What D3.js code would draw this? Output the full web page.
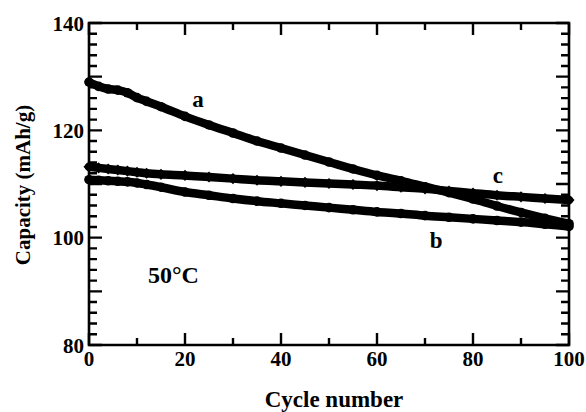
<!DOCTYPE html>
<html>
<head>
<meta charset="utf-8">
<script src="https://cdn.jsdelivr.net/npm/d3@7"></script>
<style>
  body { margin: 0; background: #fff; }
  svg text { font-family: "Liberation Serif", "Times New Roman", serif; font-weight: bold; fill: #000; }
</style>
</head>
<body>
<div id="chart"></div>
<script>
// values
var cycles = [0, 2, 4, 6, 8, 10, 12, 15, 20, 25, 30, 35, 40, 45, 50, 55, 60, 65, 70, 75, 80, 85, 90, 95, 100];
var capA = [129.0, 128.2, 127.7, 127.5, 127.0, 126.1, 125.4, 124.4, 122.6, 121.0, 119.5, 118.0, 116.7, 115.4, 114.1, 112.8, 111.6, 110.6, 109.5, 108.4, 107.2, 105.9, 104.7, 103.6, 102.6];
var capB = [110.8, 110.7, 110.6, 110.5, 110.4, 110.2, 109.9, 109.4, 108.5, 107.9, 107.3, 106.8, 106.4, 106.0, 105.6, 105.2, 104.8, 104.5, 104.1, 103.8, 103.5, 103.2, 102.9, 102.5, 102.1];
var capC = [113.2, 113.0, 112.8, 112.6, 112.4, 112.2, 112.0, 111.8, 111.6, 111.3, 111.0, 110.7, 110.5, 110.3, 110.1, 109.9, 109.7, 109.4, 109.1, 108.7, 108.3, 107.9, 107.6, 107.3, 107.0];

var xTicks = [0, 20, 40, 60, 80, 100];
var yTicks = [80, 100, 120, 140];
var seriesLabels = ["a", "b", "c"];
var labelPos = [[22.7, 124.4], [72.3, 98.0], [85.2, 110.2]];   // [cycle, capacity] of the letters

var width = 586, height = 412;
var plotLeft = 89, plotRight = 569, plotTop = 23, plotBottom = 345;

var svg = d3.select("#chart").append("svg")
    .attr("width", width)
    .attr("height", height);

var x = d3.scaleLinear().domain([0, 100]).range([plotLeft, plotRight]);
var y = d3.scaleLinear().domain([80, 140]).range([plotBottom, plotTop]);

// frame
svg.append("path")
    .attr("d", "M" + plotLeft + "," + plotTop + "H" + plotRight + "V" + plotBottom + "H" + plotLeft + "Z")
    .attr("fill", "none")
    .attr("stroke", "#000")
    .attr("stroke-width", 2.6);

// tick labels
svg.selectAll(".xl").data(xTicks).enter().append("text")
    .attr("x", function (d) { return x(d); })
    .attr("y", 366)
    .attr("text-anchor", "middle")
    .attr("font-size", 21)
    .text(function (d) { return d; });

svg.selectAll(".yl").data(yTicks).enter().append("text")
    .attr("x", plotLeft - 5)
    .attr("y", function (d) { return y(d) + 7.5; })
    .attr("text-anchor", "end")
    .attr("font-size", 21)
    .text(function (d) { return d; });

// titles
svg.append("text")
    .attr("x", 334).attr("y", 407)
    .attr("text-anchor", "middle")
    .attr("font-size", 23)
    .text("Cycle number");

svg.append("text")
    .attr("transform", "translate(30,185) rotate(-90)")
    .attr("text-anchor", "middle")
    .attr("font-size", 21)
    .text("Capacity (mAh/g)");

// curves
var line = d3.line()
    .x(function (d) { return x(d[0]); })
    .y(function (d) { return y(d[1]); })
    .curve(d3.curveMonotoneX);

function pts(vals) { return cycles.map(function (c, i) { return [c, vals[i]]; }); }

[capB, capC, capA].forEach(function (vals) {
    svg.append("path")
        .datum(pts(vals))
        .attr("d", line)
        .attr("fill", "none")
        .attr("stroke", "#000")
        .attr("stroke-width", 8.5)
        .attr("stroke-linejoin", "round")
        .attr("stroke-linecap", "round");
});

// markers
svg.append("g").selectAll("path").data(pts(capC)).enter().append("path")
    .attr("transform", function (d) { return "translate(" + x(d[0]) + "," + y(d[1]) + ") rotate(45)"; })
    .attr("d", d3.symbol().type(d3.symbolSquare).size(62))
    .attr("fill", "#000");

svg.append("g").selectAll("circle").data(pts(capA).concat(pts(capB))).enter().append("circle")
    .attr("cx", function (d) { return x(d[0]); })
    .attr("cy", function (d) { return y(d[1]); })
    .attr("r", 4.8)
    .attr("fill", "#000");

// annotations
svg.selectAll(".lab").data(seriesLabels).enter().append("text")
    .attr("x", function (d, i) { return x(labelPos[i][0]); })
    .attr("y", function (d, i) { return y(labelPos[i][1]); })
    .attr("text-anchor", "middle")
    .attr("font-size", 23)
    .text(function (d) { return d; });

svg.append("text")
    .attr("x", 148).attr("y", 283)
    .attr("font-size", 24)
    .text("50°C");

// ticks last: minor every 10 on x, every 2 on y, all pointing inward
var xAll = d3.range(0, 101, 10);
var yAll = d3.range(80, 141, 2);
function xLen(d) { return d % 20 == 0 ? 12 : 7; }
function yLen(d) { return d % 10 == 0 ? 13 : 8; }

var tickPath = d3.path();
xAll.forEach(function (d) {
    tickPath.moveTo(x(d), plotBottom); tickPath.lineTo(x(d), plotBottom - xLen(d));
    tickPath.moveTo(x(d), plotTop); tickPath.lineTo(x(d), plotTop + xLen(d));
});
yAll.forEach(function (d) {
    tickPath.moveTo(plotLeft, y(d)); tickPath.lineTo(plotLeft + yLen(d), y(d));
    tickPath.moveTo(plotRight, y(d)); tickPath.lineTo(plotRight - yLen(d), y(d));
});
svg.append("path")
    .attr("d", tickPath.toString())
    .attr("fill", "none")
    .attr("stroke", "#000")
    .attr("stroke-width", 2.4);
</script>
</body>
</html>
